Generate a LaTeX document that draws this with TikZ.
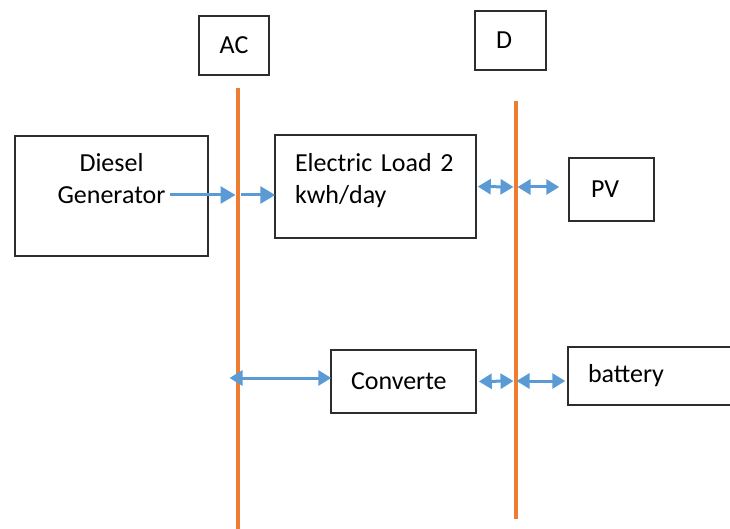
\documentclass[tikz,border=0pt]{standalone}
\usepackage{fontspec}
\setmainfont{Carlito}
\definecolor{busorange}{RGB}{237,125,49}
\definecolor{flowblue}{RGB}{91,155,213}
\definecolor{boxgray}{RGB}{45,45,45}
\usetikzlibrary{arrows.meta,positioning}

\begin{document}
\begin{tikzpicture}[
  x=1pt,y=-1pt,
  every node/.style={font=\fontsize{26}{32}\selectfont},
  unitbox/.style={draw=boxgray,line width=1.5pt,inner ysep=0pt},
  bus/.style={busorange,line width=4pt},
  flow/.style={-{Triangle[length=15pt,width=17pt]},flowblue,line width=3pt},
  flowboth/.style={{Triangle[length=13pt,width=15pt]}-{Triangle[length=13pt,width=15pt]},
                   flowblue,line width=3pt},
]
  \clip (0,0) rectangle (730,529);

  % Bus labels
  \node[unitbox,minimum width=70pt,minimum height=59pt,align=center] (ac) at (234,45.5) {AC};
  \node[unitbox,minimum width=71pt,minimum height=59pt,align=left,
        text width=29pt,inner xsep=21pt] (dc) at (510.5,40.5) {D};

  % AC side
  \node[unitbox,minimum width=193pt,minimum height=120pt,align=center,text width=153pt,
        inner xsep=20pt,text height=20pt,text depth=68pt] (gen) at (111.5,196)
    {Diesel\\Generator};
  \coordinate (genOut) at (170,195);

  % Load and DC side
  \node[unitbox,minimum width=201pt,minimum height=103pt,align=left,text width=161pt,
        inner xsep=20pt,text height=20pt,text depth=49pt] (load) at (375.5,186.5)
    {Electric Load 2\\kwh/day};
  \node[unitbox,minimum width=85pt,minimum height=63pt,align=left,
        text width=41pt,inner xsep=22pt] (pv) at (611.5,189.5) {PV};
  \node[unitbox,minimum width=145pt,minimum height=63pt,align=left,
        text width=105pt,inner xsep=20pt] (conv) at (403.5,381.5) {Converte};
  \node[unitbox,minimum width=180pt,minimum height=58pt,align=left,
        text width=140pt,inner xsep=20pt] (bat) at (658,376) {battery};

  % Buses
  \coordinate (acTop) at (237.5,88);
  \coordinate (acBot) at (237.5,529);
  \coordinate (dcTop) at (515.5,101);
  \coordinate (dcBot) at (515.5,519);
  \draw[bus] (acTop) -- (acBot);
  \draw[bus] (dcTop) -- (dcBot);
  \coordinate (ac1) at (237.5,195);
  \coordinate (ac2) at (237.5,378);
  \coordinate (dc1) at (515.5,187);
  \coordinate (dc2) at (515.5,381);

  % Flows
  \draw[flow,shorten >=2pt] (genOut) -- (ac1);
  \draw[flow,shorten <=3pt,shorten >=-1pt] (ac1) -- (ac1 -| load.west);
  \draw[flowboth,shorten <=1pt,shorten >=2pt] (load.east) -- (dc1);
  \draw[flowboth,shorten <=2pt,shorten >=9pt] (dc1) -- (dc1 -| pv.west);
  \draw[flowboth,shorten <=-8pt,shorten >=-1pt] (ac2) -- (ac2 -| conv.west);
  \draw[flowboth,shorten <=2pt,shorten >=2pt] (conv.east) -- (dc2);
  \draw[flowboth,shorten <=1pt,shorten >=2pt] (dc2) -- (dc2 -| bat.west);
\end{tikzpicture}
\end{document}
